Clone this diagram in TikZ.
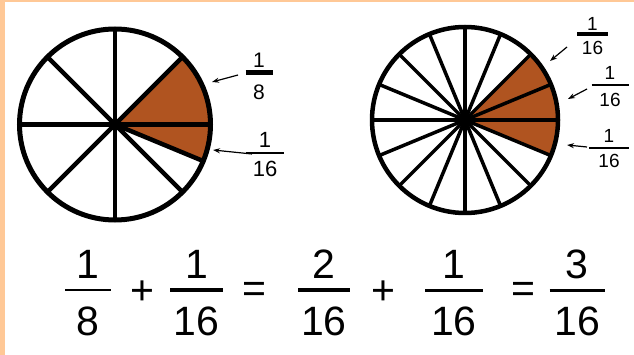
\documentclass[tikz,border=0pt]{standalone}
\usepackage{fontspec}
\setmainfont{Liberation Sans}
\usetikzlibrary{arrows.meta,calc}
\definecolor{pie}{RGB}{176,84,32}
\definecolor{framecol}{RGB}{255,200,150}
% #1 name, #2 x, #3 numerator baseline, #4 bar y, #5 denominator baseline,
% #6 numerator, #7 denominator, #8 bar half width, #9 bar thickness
\newcommand\fracat[9]{%
  \node[anchor=base,inner sep=0pt] (#1n) at (#2,#3) {#6};
  \draw[line width=#9] (#2-#8,#4) coordinate (#1bl) -- (#2+#8,#4) coordinate (#1br);
  \node[anchor=base,inner sep=0pt] (#1d) at (#2,#5) {#7};
}
\begin{document}
\begin{tikzpicture}[x=1pt,y=-1pt,
  rimL/.style={line width=5pt},
  spokeL/.style={line width=4.5pt},
  rimR/.style={line width=4.5pt},
  spokeR/.style={line width=3.5pt},
  arr/.style={line width=1.2pt,-{Stealth[length=7pt,width=5pt]}},
  eqfont/.style={font=\fontsize{41}{41}\selectfont},
  lblL/.style={font=\fontsize{21}{21}\selectfont},
  lblR/.style={font=\fontsize{19}{19}\selectfont}]
\useasboundingbox (0,0) rectangle (634,355);
\fill[white] (0,0) rectangle (634,355);
\fill[framecol] (0,0) rectangle (5,355);
\fill[framecol] (0,0) rectangle (634,2.5);

% left circle (eighths)
\coordinate (cL) at (115,124.5);
\fill[pie] (cL) -- ++(-22.5:95.5pt) arc[start angle=-22.5, end angle=45, radius=95.5pt] -- cycle;
\foreach \a in {0,45,90,135}
  \draw[spokeL] ($(cL)+(\a:95.5pt)$) -- ($(cL)+(\a+180:95.5pt)$);
\draw[spokeL] (cL) -- ($(cL)+(-22.5:95.5pt)$);
\draw[rimL] (cL) circle[radius=95.5pt];

% right circle (sixteenths)
\coordinate (cR) at (465,120);
\fill[pie] (cR) -- ++(-22.5:93pt) arc[start angle=-22.5, end angle=45, radius=93pt] -- cycle;
\foreach \a in {0,22.5,...,157.5}
  \draw[spokeR] ($(cR)+(\a:93pt)$) -- ($(cR)+(\a+180:93pt)$);
\draw[rimR] (cR) circle[radius=93pt];

% labels, left circle
\begin{scope}[lblL]
\fracat{La}{259}{68}{72.5}{100}{1}{8}{13.5}{4.5pt}
\end{scope}
\begin{scope}[font=\fontsize{22}{22}\selectfont]
\fracat{Lb}{265}{148}{153}{177}{1}{16}{19}{2pt}
\end{scope}
\coordinate (LaT) at (238,75);  \coordinate (LaH) at (212,82);
\coordinate (LbT) at (252,154); \coordinate (LbH) at (213,150);
\draw[arr] (LaT) -- (LaH);
\draw[arr] (LbT) -- (LbH);

% labels, right circle
\begin{scope}[lblR]
\fracat{Ra}{592.5}{31}{34}{55}{1}{16}{15.5}{4pt}
\fracat{Rb}{610}{80}{85}{107}{1}{16}{18.5}{2pt}
\fracat{Rc}{609}{143}{148}{168}{1}{16}{20}{2pt}
\end{scope}
\coordinate (RaT) at (567,47);  \coordinate (RaH) at (550,61);
\coordinate (RbT) at (587,89);  \coordinate (RbH) at (568,99);
\coordinate (RcT) at (587,147); \coordinate (RcH) at (567,145);
\draw[arr] (RaT) -- (RaH);
\draw[arr] (RbT) -- (RbH);
\draw[arr] (RcT) -- (RcH);

% equation
\begin{scope}[eqfont]
\fracat{E1}{88}{278}{290}{335}{1}{8}{23}{2.5pt}
\node[inner sep=0pt] (p1) at (142,293) {+};
\fracat{E2}{196.5}{278}{290}{335}{1}{16}{26.5}{3.5pt}
\node[inner sep=0pt] (q1) at (254,292.5) {=};
\fracat{E3}{324}{278}{290}{335}{2}{16}{26}{4pt}
\node[inner sep=0pt] (p2) at (383,293) {+};
\fracat{E4}{454}{278}{290}{335}{1}{16}{29}{3pt}
\node[inner sep=0pt] (q2) at (523.5,292.5) {=};
\fracat{E5}{577}{278}{290}{335}{3}{16}{27.5}{3pt}
\end{scope}
\end{tikzpicture}
\end{document}
